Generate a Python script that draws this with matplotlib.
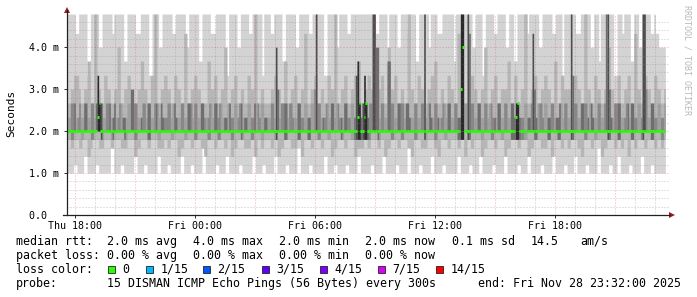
import numpy as np
import matplotlib
matplotlib.use("Agg")
import matplotlib.pyplot as plt
from matplotlib.patches import Polygon, Rectangle
from matplotlib.lines import Line2D
from matplotlib.transforms import IdentityTransform

W, H = 697, 297

# rtt levels seen in the smoke (ms); the strings below index into this (0-9, a-d)
levels = [1.0, 1.2, 1.4, 1.6, 1.8, 2.0, 2.33, 2.67, 3.0, 3.33, 3.67, 4.0, 4.33, 4.79]

# one character per 5 minute step, Thu 17:36 .. Fri 23:32
hi_codes = (
    "dddddccddd" "dd99dddddb" "bddddddcdd" "ddddaadddd" "dcccddddd9" "9ddddbbddd"
    "dddccddddd" "dbbdddddda" "adddddcccd" "ddddd99ddd" "ddbbdddddc" "cdddddd9dd"
    "ddccddddda" "addddddbbd" "dddddccddd" "dddd99dddd" "dbbdddddcc" "dddddddddd"
    "dddddccddd" "dd9dddddbb" "ddddcdddda" "addddddbdd" "ddcccddddd" "ddaddddddd"
    "dddbbdddd9" "9dddddccdd" "dddbbdddaa" "ddddddcddd" "dddbbddddd" "dccdddd9dd"
    "dddddcccdd" "ddddbbddda" "dddddddd99" "dddcddddaa" "dddbbddddd" "ccdccbbbb"
)
lo_codes = (
    "0000110000" "2200000110" "0000003300" "0011000000" "2200001100" "0000220000"
    "1100000022" "0000110000" "0330000001" "1000022000" "0001100000" "0220000110"
    "0000220000" "0110000033" "0000011000" "0000220000" "1100000110" "0000220000"
    "0011000002" "2000000110" "0000330000" "0110000022" "0000011000" "0000220000"
    "0110000220" "0000011000" "0033000000" "1100002200" "0000110000" "0220000011"
    "0000220000" "0110000033" "0000011000" "2200000110" "0000220000" "110000000"
)
lo2_codes = (
    "4433444334" "4422344443" "3344443344" "4433334444" "2233444433" "4444333344"
    "3344442233" "4444334444" "3322444433" "4444334422" "3344443333" "4422443344"
    "4433442233" "4444333344" "2244443344" "4433444422" "3344443344" "4422333344"
    "3344443344" "2233444433" "4444332244" "4433334444" "3322444433" "4444334422"
    "4433444422" "3344443344" "4422334444" "3344442233" "4444333344" "2244443344"
    "3344443322" "4444334444" "2233444433" "4433442244" "3344443344" "443344334"
)
lo3_codes = (
    "5544555544" "5555445555" "4455554455" "5555445555" "4455555544" "5555445555"
    "5544555555" "4455554455" "5555445555" "4455555544" "5555445555" "4455554455"
    "5555445555" "4455555544" "5555445555" "4455554455" "5555445555" "4444444444"
    "4455554455" "5555445555" "4455555544" "5555445555" "4455554455" "5555444455"
    "4455555544" "5555445555" "4455554444" "4444445555" "4455555544" "5555445555"
    "5544555555" "4455554455" "5555445555" "4455555544" "5555445555" "445555445"
)
hi2_codes = (
    "7788999877" "88aa77dd88" "7799887788" "bb77889977" "7788aa8877" "99dd778899"
    "8877998877" "cc77889988" "7777aa8899" "7788bb7788" "9977887799" "88dd778877"
    "7788998877" "aa77889977" "88cc778899" "7788779988" "dd77889977" "8899aa7788"
    "9988778899" "77bb889977" "8877dd8877" "9988778899" "aa77887799" "8877cc8877"
    "7799887788" "bb77889977" "8888aa7799" "7788dd7788" "9977889988" "77aa779988"
    "8877998877" "dd88779988" "7788bb8877" "9977889977" "cc88779988" "779988778"
)
hi3_codes = (
    "6677766766" "7766776797" "7667776676" "6776667788" "7766677677" "6677767666"
    "7767766677" "6677767766" "7766677677" "6776667766" "7767766677" "6677767766"
    "66776b8677" "7767766677" "667766778d" "7766677677" "6776667766" "7769a76797"
    "677ddbb677" "66aa776677" "7767766677" "6677d67766" "7766677677" "667766dd77"
    "dc77667766" "7767766677" "6677667767" "766677667c" "8677767766" "7766677677"
    "66d9776677" "7767766677" "667dd86677" "7766677677" "66776dd866" "776677667"
)
# how dark the inner band is, 0 (light) .. 4 (almost black)
dark_codes = (
    "0011201100" "2200110244" "3001120220" "1102200022" "1100211022" "0012002211"
    "1100220011" "0022101100" "2210110022" "1100220211" "0011202200" "1120110022"
    "0011032011" "2201110022" "1100220013" "1102110022" "0011202211" "0023442344"
    "2113322011" "0022110022" "1102220011" "0011300220" "1120110022" "0011224400"
    "3211002200" "1100112022" "0011002224" "4211002213" "2201110022" "1102220011"
    "0032110022" "1120220011" "0012322011" "2200112022" "1100133100" "221100110"
)
median_codes = (
    "5555555555" "5555555567" "5555555555" "5555555555" "5555555555" "5555555555"
    "5555555555" "5555555555" "5555555555" "5555555555" "5555555555" "5555555555"
    "5555555555" "5555555555" "5555555555" "5555555555" "5555555555" "5555675567"
    "5555555555" "5555555555" "5555555555" "5555555555" "5555555555" "5555558b55"
    "5555555555" "5555555555" "5555555556" "7555555555" "5555555555" "5555555555"
    "5555555555" "5555555555" "5555555555" "5555555555" "5555555555" "555555555"
)

x_labels = ["Thu 18:00", "Fri 00:00", "Fri 06:00", "Fri 12:00", "Fri 18:00"]
x_label_hours = [18, 24, 30, 36, 42]
y_ticks = [0, 1, 2, 3, 4]
y_labels = ["0.0  ", "1.0 m", "2.0 m", "3.0 m", "4.0 m"]

loss_labels = ["0", "1/15", "2/15", "3/15", "4/15", "7/15", "14/15"]
loss_colors = ["#26ff00", "#00b8ff", "#0059ff", "#5e00ff", "#7e00ff", "#dd00ff", "#ff0000"]


def decode(s):
    return np.array([levels[int(c, 16)] for c in s])


hi = decode(hi_codes)
lo = decode(lo_codes)
lo2 = decode(lo2_codes)
lo3 = decode(lo3_codes)
hi2 = decode(hi2_codes)
hi3 = decode(hi3_codes)
med = decode(median_codes)
dark = np.array([int(c) for c in dark_codes])
n = len(hi)

t0 = 17.6  # hours since Thu 00:00
edges = t0 + np.arange(n + 1) / 12.0
xmin, xmax = 17.6, 47.7
ymin, ymax = 0.0, 4.79

fig = plt.figure(figsize=(W / 100, H / 100), dpi=100)
ax = fig.add_axes([67 / W, (H - 215) / H, 602 / W, 201 / H])
ax.set_xlim(xmin, xmax)
ax.set_ylim(ymin, ymax)
for s in ax.spines.values():
    s.set_visible(False)


def band(bottom, top, color, z=1):
    ax.fill_between(edges, np.append(bottom, bottom[-1]), np.append(top, top[-1]),
                    step="post", color=color, lw=0, antialiased=False, zorder=z)


band(lo, hi, "#d3d3d3")
band(lo2, hi2, "#b6b6b6")
shades = ["#a0a0a0", "#888888", "#6e6e6e", "#4e4e4e", "#2a2a2a"]
base = np.full(n, 2.0)
for k, c in enumerate(shades):
    sel = dark == k
    band(base, np.where(sel, hi3, 2.0), c, z=2)
    band(np.where(sel, lo3, 2.0), base, c, z=2)

# grid (drawn over the smoke, as rrdtool does)
dots = (0, (1, 2))
for h in np.arange(18, 48):
    major = (h - 18) % 3 == 0
    ax.axvline(h, color="#d04040" if major else "#808080", alpha=0.4 if major else 0.45,
               lw=0.72, ls=dots, zorder=3)
for v in np.arange(0.2, 4.7, 0.2):
    major = abs(v - round(v)) < 1e-6
    ax.axhline(v, color="#d04040" if major else "#808080", alpha=0.4 if major else 0.45,
               lw=0.72, ls=dots, zorder=3)

# median rtt, coloured by loss (all zero loss here)
ax.hlines(med, edges[:-1], edges[1:], colors=loss_colors[0], lw=2.2, zorder=5,
          capstyle="butt")

mono = "DejaVu Sans Mono"
ax.set_xticks(x_label_hours, x_labels)
ax.set_yticks(y_ticks, y_labels)
ax.tick_params(axis="x", length=2, width=0.72, pad=2.5, labelsize=7.2, color="#333333")
ax.tick_params(axis="y", length=2.5, width=0.72, pad=3, labelsize=7.2, color="#333333")
for lab in ax.get_xticklabels() + ax.get_yticklabels():
    lab.set_family(mono)


def P(x, y):
    return (x, H - y)


# axis lines with arrows
ident = IdentityTransform()
fig.add_artist(Line2D([67, 67], [H - 215, H - 10], color="#222222", lw=0.9, transform=ident))
fig.add_artist(Line2D([63, 670], [H - 215, H - 215], color="#222222", lw=0.9, transform=ident))
fig.add_artist(Polygon([P(64, 13), P(70, 13), P(67, 7)], closed=True,
                       color="#9a1c1c", lw=0, transform=ident))
fig.add_artist(Polygon([P(669, 212), P(669, 218), P(675, 215)], closed=True,
                       color="#9a1c1c", lw=0, transform=ident))

fig.text(11 / W, 1 - 113 / H, "Seconds", rotation=90, ha="center", va="center",
         family=mono, fontsize=8)
fig.text(687 / W, 1 - 5 / H, "RRDTOOL / TOBI OETIKER", rotation=270, ha="center",
         va="top", family=mono, fontsize=6, color="#b8b8b8")

# legend
fs = 8.4


def put(x, y, s):
    fig.text(x / W, 1 - y / H, s, ha="left", va="center", family=mono, fontsize=fs)


cols = [107, 193, 279, 365]
put(16, 241.5, "median rtt:")
for x, s in zip(cols + [451.5, 530.5, 580],
                ["2.0 ms avg", "4.0 ms max", "2.0 ms min", "2.0 ms now", "0.1 ms sd", "14.5", "am/s"]):
    put(x, 241.5, s)
put(16, 255.5, "packet loss:")
for x, s in zip(cols, ["0.00 % avg", "0.00 % max", "0.00 % min", "0.00 % now"]):
    put(x, 255.5, s)
put(16, 269.5, "loss color:")
box_x = [108, 146, 203, 262, 320, 378, 436]
for bx, lab, c in zip(box_x, loss_labels, loss_colors):
    fig.add_artist(Rectangle(P(bx, 273), 7, 7, facecolor=c, edgecolor="#222222",
                             lw=0.6, transform=ident))
    put(bx + 14.5, 269.5, lab)
put(16, 283.5, "probe:")
put(107, 283.5, "15 DISMAN ICMP Echo Pings (56 Bytes) every 300s")
put(478, 283.5, "end: Fri Nov 28 23:32:00 2025")

fig.savefig("out.png", dpi=100, facecolor="white")
